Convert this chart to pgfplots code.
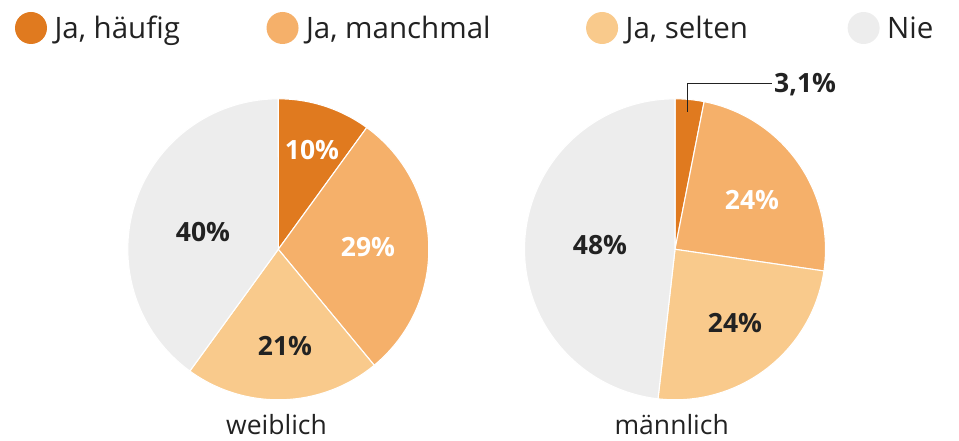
\documentclass[border=0pt]{standalone}
\usepackage{fontspec}
\setmainfont{Open Sans}
\usepackage{pgfplots}
\pgfplotsset{compat=1.18}
\definecolor{c1}{HTML}{E07A1F}
\definecolor{c2}{HTML}{F5B06A}
\definecolor{c3}{HTML}{F9CA8C}
\definecolor{c4}{HTML}{EDEDED}
\definecolor{txt}{HTML}{222222}
% #1,#2 centre, #3 start (percent), #4 value (percent), #5 colour, #6 extra options
\newcommand\slice[6]{%
  \addplot[fill=#5, draw=white, line width=1.1pt, line join=round,
    domain=#3*3.6:(#3+#4)*3.6, samples=120, #6]
    ({#1+150.5*sin(x)},{#2+150.5*cos(x)}) -- (axis cs:#1,#2) -- cycle;}
\begin{document}
\begin{tikzpicture}
\useasboundingbox (0,0) rectangle (959pt,441pt);
\begin{axis}[
  at={(0,0)}, anchor=south west,
  width=959pt, height=441pt, scale only axis,
  xmin=0, xmax=959, ymin=0, ymax=441,
  hide axis, clip=false,
  legend columns=4,
  legend image code/.code={\fill[#1,draw=none] (16pt,0pt) circle[radius=16pt]; \path (39pt,0pt);},
  legend style={draw=none, fill=none, inner sep=0pt, outer sep=0pt,
    nodes={inner sep=0pt, text=txt},
    font=\fontsize{29.5}{34}\selectfont,
    column sep=0pt,
    at={(axis cs:15,413)}, anchor=west},
]
% weiblich: 10, 29, 21, 40
\slice{278.3}{191.7}{0}{10}{c1}{}
\addlegendentry{\makebox[212pt][l]{Ja, häufig}}
\slice{278.3}{191.7}{10}{29}{c2}{}
\addlegendentry{\makebox[280pt][l]{Ja, manchmal}}
\slice{278.3}{191.7}{39}{21}{c3}{}
\addlegendentry{\makebox[222pt][l]{Ja, selten}}
\slice{278.3}{191.7}{60}{40}{c4}{}
\addlegendentry{Nie}
% maennlich: 3.1, 24.2, 24.5, 48.2
\slice{675}{191.7}{0}{3.1}{c1}{forget plot}
\slice{675}{191.7}{3.1}{24.2}{c2}{forget plot}
\slice{675}{191.7}{27.3}{24.5}{c3}{forget plot}
\slice{675}{191.7}{51.8}{48.2}{c4}{forget plot}

\begin{scope}[font=\fontsize{26.5}{30}\selectfont\bfseries]
\node[text=white] at (axis cs:312,291.3) {10\%};
\node[text=white] at (axis cs:368,193.7) {29\%};
\node[text=txt] at (axis cs:285,95) {21\%};
\node[text=txt] at (axis cs:203,209) {40\%};
\node[text=txt] at (axis cs:600,196) {48\%};
\node[text=white] at (axis cs:752,241) {24\%};
\node[text=txt] at (axis cs:735,118) {24\%};
\node[text=txt, anchor=west, inner sep=0pt] at (axis cs:774,356) {3,1\%};
\end{scope}
\draw[txt, line width=1.2pt] (axis cs:687.7,329.3) -- (axis cs:687.7,357.7) -- (axis cs:771.7,357.7);
\node[text=txt, anchor=base, inner sep=0pt, font=\fontsize{26.5}{30}\selectfont] at (axis cs:276.5,6.7) {weiblich};
\node[text=txt, anchor=base, inner sep=0pt, font=\fontsize{26.5}{30}\selectfont] at (axis cs:671.7,6.7) {männlich};
\end{axis}
\end{tikzpicture}
\end{document}
